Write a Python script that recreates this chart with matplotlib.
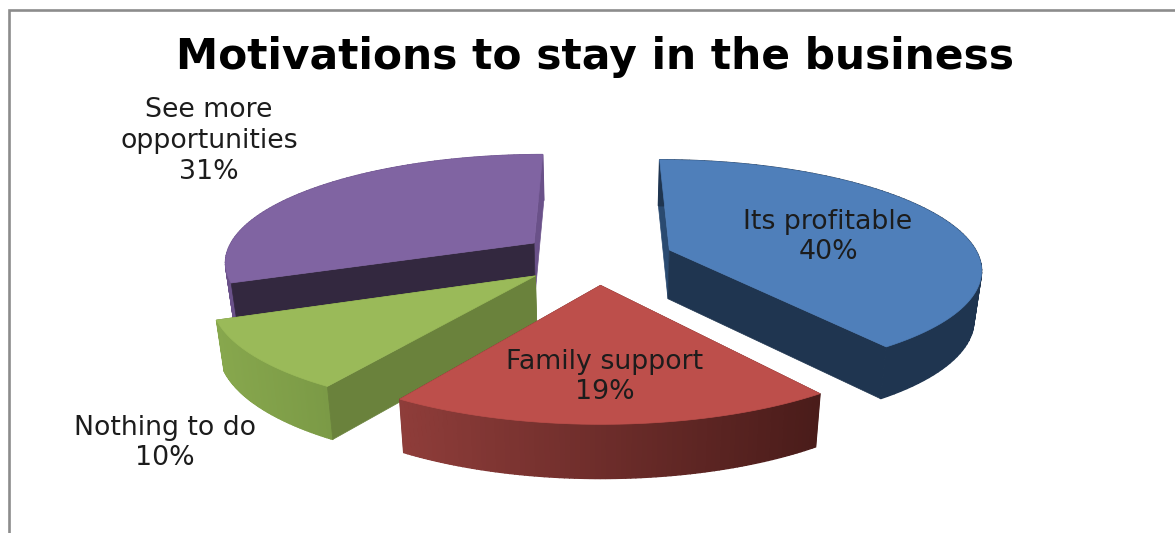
import numpy as np
import matplotlib
matplotlib.use("Agg")
import matplotlib.pyplot as plt
from matplotlib.patches import Polygon
from matplotlib.colors import to_rgb

# slices in clockwise order starting from 12 o'clock
labels = ["Its profitable", "Family support", "Nothing to do", "See more\nopportunities"]
values = [40, 19, 10, 31]
top_colors = ["#4f7fba", "#bd4f4b", "#9aba59", "#8064a2"]
front_cut = ["#1f3550", "#5e2523", "#6a823c", "#33283f"]
back_cut = ["#2a4a70", "#5e2523", "#6a823c", "#6a5189"]
side_left = ["#1f3550", "#8f3d3a", "#87a74d", "#6a5189"]
side_right = ["#1f3550", "#4a1c1a", "#7b9a46", "#6a5189"]
label_pos = [(828, 237), (605, 377), (165, 443), (209, 141)]
explode = [0.245, 0.245, 0.255, 0.255]
# which end of the arc carries the cut face turned to the viewer
front_end = [-1, -1, 0, 0]

title = "Motivations to stay in the business"

# projection of the pie plane
CX, CY = 598, 258
A, B = 310, 107
PERSP = 0.16
SHRINK = 0.98


def project(px, py):
    w = 1 + PERSP * py
    return CX + A * px / w, CY - B * py / w


def drop(px, py):
    # same plane point on the lower face of the pie
    x, y = project(px, py)
    w = 1 + PERSP * py
    return CX + (x - CX) * SHRINK, y + 28 + 21 / w


def mix(c1, c2, t):
    c1, c2 = np.array(to_rgb(c1)), np.array(to_rgb(c2))
    return tuple(c1 + (c2 - c1) * t)


def wall(ax, p1, p2, color, lw=0.5):
    pts = [project(*p1), project(*p2), drop(*p2), drop(*p1)]
    ax.add_patch(Polygon(pts, closed=True, fc=color, ec=color, lw=lw))


def draw_slice(ax, start, end, i):
    mid = (start + end) / 2
    ox, oy = explode[i] * np.sin(mid), explode[i] * np.cos(mid)
    th = np.linspace(start, end, 90)
    arc = np.column_stack([ox + np.sin(th), oy + np.cos(th)])
    front = front_end[i]
    back = 0 if front == -1 else -1

    wall(ax, (ox, oy), arc[back], back_cut[i])
    # the red slice faces away on both cuts, so its rim goes over them
    if i == 1:
        wall(ax, (ox, oy), arc[front], front_cut[i])

    # rim shaded left to right on screen
    xs = np.array([project(*p)[0] for p in arc])
    for j in range(len(arc) - 1):
        t = (xs[j] - xs.min()) / (xs.max() - xs.min())
        wall(ax, arc[j], arc[j + 1], mix(side_left[i], side_right[i], t), lw=1.0)

    if i != 1:
        wall(ax, (ox, oy), arc[front], front_cut[i])

    top = [project(ox, oy)] + [project(*p) for p in arc]
    ax.add_patch(Polygon(top, closed=True, fc=top_colors[i], ec=top_colors[i], lw=0.5))


fig = plt.figure(figsize=(11.75, 5.33), dpi=100, facecolor="white")
ax = fig.add_axes([0, 0, 1, 1])
ax.set_xlim(0, 1175)
ax.set_ylim(533, 0)
ax.axis("off")

# chart frame, open on the right and bottom
ax.plot([9, 9, 1175], [533, 10, 10], color="#8c8c8c", lw=1.9, solid_joinstyle="miter")

edges = np.cumsum([0] + values) / sum(values) * 2 * np.pi
for i in [3, 2, 0, 1]:
    draw_slice(ax, edges[i], edges[i + 1], i)

ax.text(595, 57, title, ha="center", va="center", fontsize=30.5,
        fontweight="bold", family="DejaVu Sans", color="black")

for name, val, pos in zip(labels, values, label_pos):
    ax.text(pos[0], pos[1], f"{name}\n{val}%", ha="center", va="center",
            fontsize=19.3, family="DejaVu Sans", color="#1c1c1c", linespacing=1.24)

fig.savefig("out.png", dpi=100)
